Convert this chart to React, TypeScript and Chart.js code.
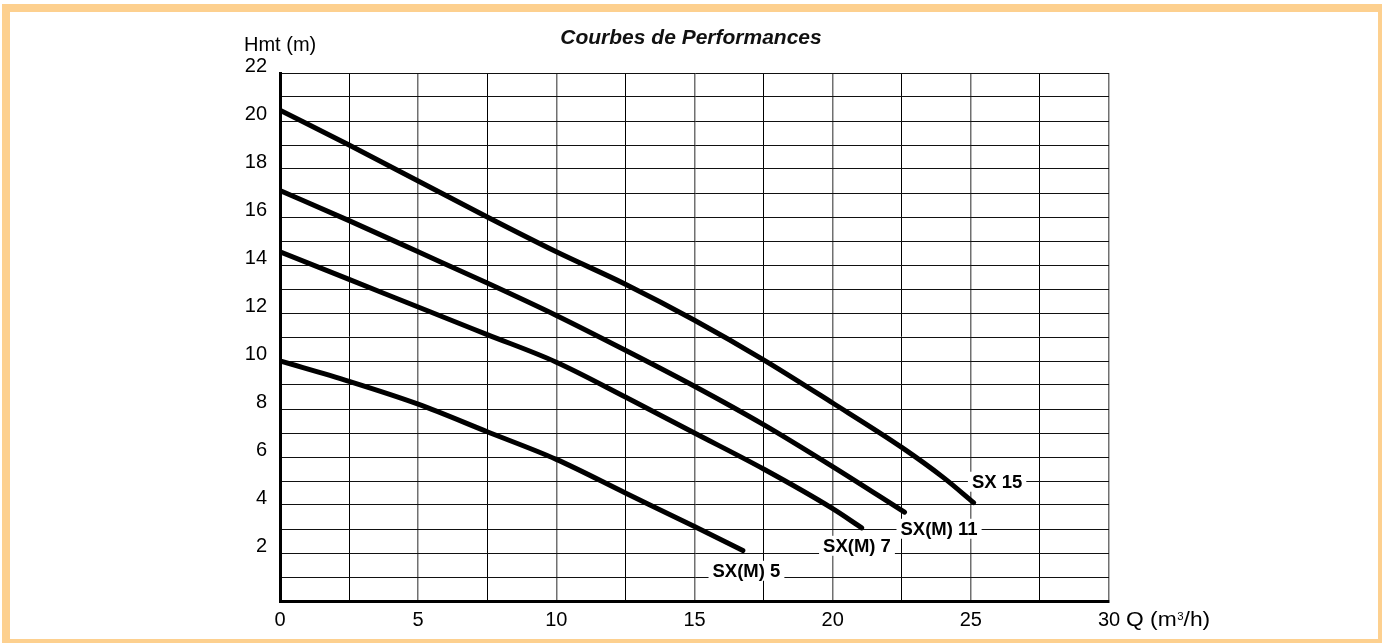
import React, { useEffect, useRef } from "react";
import { Chart, registerables } from "chart.js";

Chart.register(...registerables);

// ---- Data (Q in m3/h, Hmt in m) ----
const SX15_Q = [0, 2.5, 5, 7.5, 10, 12.5, 15, 17.5, 20, 22.5, 24, 25.1];
const SX15_H = [20.45, 19.0, 17.5, 16.0, 14.55, 13.2, 11.7, 10.05, 8.25, 6.4, 5.15, 4.1];

const SX11_Q = [0, 2.5, 5, 7.5, 10, 12.5, 15, 17.5, 20, 22.6];
const SX11_H = [17.1, 15.85, 14.55, 13.25, 11.9, 10.45, 8.95, 7.35, 5.6, 3.7];

const SX7_Q = [0, 2.5, 5, 7.5, 10, 12.5, 15, 17.5, 20, 21.05];
const SX7_H = [14.55, 13.4, 12.25, 11.1, 9.95, 8.5, 7.0, 5.5, 3.85, 3.05];

const SX5_Q = [0, 2.5, 5, 7.5, 10, 12.5, 15, 16.75];
const SX5_H = [10.0, 9.15, 8.2, 7.05, 5.9, 4.5, 3.1, 2.1];

const CURVE_NAMES = ["SX 15", "SX(M) 11", "SX(M) 7", "SX(M) 5"];
const LABEL_Q = [25.95, 23.85, 20.88, 16.88];
const LABEL_H = [4.97, 3.01, 2.3, 1.26];

const X_MIN = 0;
const X_MAX = 30;
const X_STEP = 2.5;
const X_LABEL_EVERY = 5;
const Y_MIN = 0;
const Y_MAX = 22;
const Y_STEP = 1;
const Y_LABEL_EVERY = 2;

const TITLE = "Courbes de Performances";
const Y_TITLE = "Hmt (m)";
const X_TITLE_A = "Q (m";
const X_TITLE_SUP = "3";
const X_TITLE_B = "/h)";

const FONT = "'Liberation Sans', Arial, Helvetica, sans-serif";

function toPoints(q: number[], h: number[]) {
  return q.map((v, i) => ({ x: v, y: h[i] }));
}

const textPlugin = {
  id: "chartTexts",
  afterDatasetsDraw(chart: any) {
    const ctx = chart.ctx;
    const xs = chart.scales.x;
    const ys = chart.scales.y;
    ctx.save();
    ctx.font = `bold 18.5px ${FONT}`;
    ctx.textAlign = "center";
    ctx.textBaseline = "alphabetic";
    CURVE_NAMES.forEach((name, i) => {
      const px = xs.getPixelForValue(LABEL_Q[i]);
      const py = ys.getPixelForValue(LABEL_H[i]);
      const w = ctx.measureText(name).width;
      ctx.fillStyle = "#fff";
      ctx.fillRect(px - w / 2 - 4, py - 10, w + 8, 20);
      ctx.fillStyle = "#000";
      ctx.fillText(name, px, py + 6.6);
    });
    ctx.restore();
  },
  afterDraw(chart: any) {
    const ctx = chart.ctx;
    const area = chart.chartArea;
    ctx.save();
    ctx.fillStyle = "#111";
    // Title
    ctx.font = `italic bold 21px ${FONT}`;
    ctx.textAlign = "center";
    ctx.textBaseline = "alphabetic";
    ctx.fillText(TITLE, chart.width / 2, 43.5);
    // Y title
    ctx.fillStyle = "#000";
    ctx.font = `20px ${FONT}`;
    ctx.textAlign = "left";
    ctx.fillText(Y_TITLE, area.left - 36, area.top - 22.3);
    // X title (stretched horizontally)
    const x0 = area.right + 17;
    const base = area.bottom + 25;
    ctx.translate(x0, base);
    ctx.scale(1.14, 1);
    ctx.font = `20px ${FONT}`;
    ctx.fillText(X_TITLE_A, 0, 0);
    let w = ctx.measureText(X_TITLE_A).width;
    ctx.font = `10px ${FONT}`;
    ctx.fillText(X_TITLE_SUP, w + 0.5, -6);
    w += ctx.measureText(X_TITLE_SUP).width + 0.5;
    ctx.font = `20px ${FONT}`;
    ctx.fillText(X_TITLE_B, w, 0);
    ctx.restore();
  },
};

export default function App() {
  const ref = useRef<HTMLCanvasElement>(null);

  useEffect(() => {
    document.body.style.margin = "0";
    document.body.style.overflow = "hidden";
    const curves = [
      toPoints(SX15_Q, SX15_H),
      toPoints(SX11_Q, SX11_H),
      toPoints(SX7_Q, SX7_H),
      toPoints(SX5_Q, SX5_H),
    ];
    const chart = new Chart(ref.current as HTMLCanvasElement, {
      type: "line",
      data: {
        datasets: curves.map((pts, i) => ({
          label: CURVE_NAMES[i],
          data: pts,
          borderColor: "#000",
          borderWidth: 5,
          pointRadius: 0,
          fill: false,
          cubicInterpolationMode: "monotone",
          borderCapStyle: "round",
          borderJoinStyle: "round",
        })),
      },
      options: {
        responsive: false,
        animation: false,
        events: [],
        layout: { padding: { left: 0, top: 73, right: 273, bottom: 0 } },
        plugins: {
          legend: { display: false },
          title: { display: false },
          tooltip: { enabled: false },
        },
        scales: {
          x: {
            type: "linear",
            min: X_MIN,
            max: X_MAX,
            afterFit: (s: any) => {
              s.height = 42;
            },
            ticks: {
              stepSize: X_STEP,
              autoSkip: false,
              maxRotation: 0,
              padding: 7,
              color: "#000",
              font: { family: FONT, size: 20 },
              callback: (v: any) => (Number(v) % X_LABEL_EVERY === 0 ? String(v) : ""),
            },
            grid: {
              drawTicks: false,
              color: (c: any) =>
                c.tick && c.tick.value % X_LABEL_EVERY === 0 ? "#707070" : "#000",
              lineWidth: (c: any) =>
                c.tick && c.tick.value % X_LABEL_EVERY === 0 ? 1.5 : 1,
            },
            border: { color: "#000", width: 3 },
          },
          y: {
            type: "linear",
            min: Y_MIN,
            max: Y_MAX,
            afterFit: (s: any) => {
              s.width = 280;
            },
            ticks: {
              stepSize: Y_STEP,
              autoSkip: false,
              padding: 13,
              labelOffset: -7,
              color: "#000",
              font: { family: FONT, size: 20 },
              callback: (v: any) =>
                Number(v) > 0 && Number(v) % Y_LABEL_EVERY === 0 ? String(v) : "",
            },
            grid: { drawTicks: false, color: "#111", lineWidth: 1 },
            border: { color: "#000", width: 3 },
          },
        },
      } as any,
      plugins: [textPlugin],
    });
    return () => chart.destroy();
  }, []);

  return (
    <div
      style={{
        position: "relative",
        width: 1382,
        height: 643,
        background: "#fff",
        overflow: "hidden",
      }}
    >
      <canvas
        ref={ref}
        width={1382}
        height={643}
        style={{ position: "absolute", left: 0, top: 0, width: 1382, height: 643 }}
      />
      <div
        style={{
          position: "absolute",
          left: 2,
          top: 4,
          width: 1380,
          height: 639,
          boxSizing: "border-box",
          borderStyle: "solid",
          borderColor: "#FDD08F",
          borderWidth: "8px 4px 4px 8px",
          pointerEvents: "none",
        }}
      />
    </div>
  );
}
